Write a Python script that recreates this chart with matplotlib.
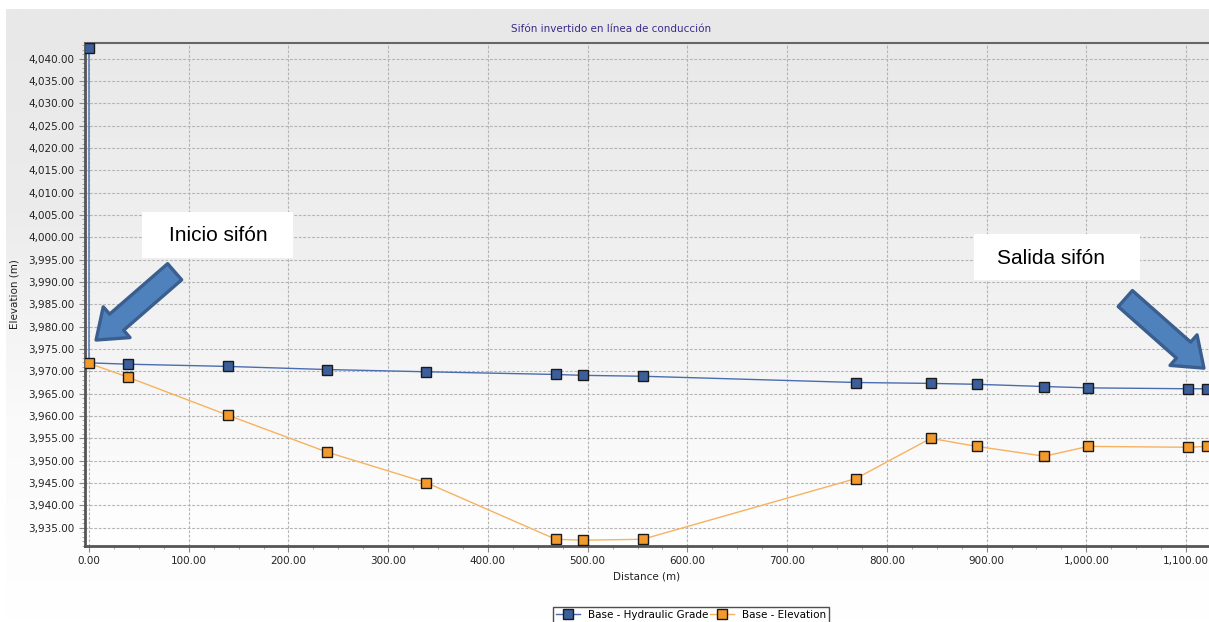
import matplotlib.pyplot as plt
import numpy as np
from matplotlib.colors import LinearSegmentedColormap
from matplotlib.patches import FancyArrowPatch, Rectangle
from matplotlib.ticker import MultipleLocator, FuncFormatter

dist_hgl = [0, 0, 39, 139, 239, 338, 468, 495, 555, 769, 844, 890, 958, 1002, 1102, 1121]
hgl = [4042.3, 3971.9, 3971.6, 3971.1, 3970.4, 3969.9, 3969.3, 3969.1, 3968.9,
       3967.5, 3967.3, 3967.1, 3966.6, 3966.3, 3966.1, 3966.1]
hgl_markers = [0, 2, 3, 4, 5, 6, 7, 8, 9, 10, 11, 12, 13, 14, 15]

dist_elev = [0, 39, 139, 239, 338, 468, 495, 555, 769, 844, 890, 958, 1002, 1102, 1121]
elev = [3971.8, 3968.7, 3960.2, 3951.9, 3945.1, 3932.4, 3932.2, 3932.4,
        3946.0, 3955.0, 3953.2, 3951.0, 3953.2, 3953.0, 3953.2]

fig = plt.figure(figsize=(12.09, 6.22), dpi=100)
fig.patch.set_facecolor("white")

# fondo gris del grafico
grad = np.linspace(0, 1, 256).reshape(-1, 1)
bg = fig.add_axes([6 / 1209, 0, 1 - 6 / 1209, 1 - 9 / 622], zorder=-5)
bg.imshow(grad, aspect="auto", extent=[0, 1, 0, 1],
          cmap=LinearSegmentedColormap.from_list("g", ["#e8e8e8", "#ececec", "#fafafa", "#ffffff"]))
bg.set_axis_off()

ax = fig.add_axes([85 / 1209, 1 - 546 / 622, 1 - 85 / 1209, (546 - 43) / 622])
ax.imshow(grad, aspect="auto", transform=ax.transAxes, extent=[0, 1, 0, 1], zorder=-1,
          cmap=LinearSegmentedColormap.from_list("g2", ["#e9e9e9", "#f1f1f1", "#ffffff"]))

ax.plot(dist_hgl, hgl, color="#4a6db0", lw=1.0, marker="s", markersize=7,
        markerfacecolor="#3c5f9c", markeredgecolor="#1a1a1a", markeredgewidth=1.0,
        markevery=hgl_markers, label="Base - Hydraulic Grade", zorder=3)
ax.plot(dist_elev, elev, color="#f7b260", lw=1.0, marker="s", markersize=7,
        markerfacecolor="#f39a2c", markeredgecolor="#1a1a1a", markeredgewidth=1.0,
        label="Base - Elevation", zorder=4)

ax.set_xlim(-4, 1123)
ax.set_ylim(3930.9, 4043.5)
ax.xaxis.set_major_locator(MultipleLocator(100))
ax.xaxis.set_minor_locator(MultipleLocator(25))
ax.yaxis.set_major_locator(MultipleLocator(5))
ax.yaxis.set_minor_locator(MultipleLocator(1))
fmt = FuncFormatter(lambda v, p: f"{v:,.2f}")
ax.xaxis.set_major_formatter(fmt)
ax.yaxis.set_major_formatter(fmt)
ax.tick_params(labelsize=7.5, labelcolor="#222222")
ax.tick_params(which="major", length=4, width=0.8, color="#888888")
ax.tick_params(which="minor", length=2.5, width=0.6, color="#999999")
ax.grid(True, which="major", linestyle="--", color="#b4b4b4", linewidth=0.8, dashes=(2.5, 1.5))

for side in ["left", "bottom"]:
    ax.spines[side].set_linewidth(2.0)
    ax.spines[side].set_color("#555555")
ax.spines["top"].set_linewidth(1.5)
ax.spines["top"].set_color("#666666")
ax.spines["right"].set_visible(False)

ax.set_xlabel("Distance (m)", fontsize=7.5, color="#222222", labelpad=4)
ax.set_ylabel("Elevation (m)", fontsize=7.5, color="#222222", labelpad=6)
fig.text(611 / 1209, 1 - 29 / 622, "Sifón invertido en línea de conducción",
         ha="center", va="center", fontsize=7.5, color="#3b2a8c")

# flechas y notas
arrow_kw = dict(arrowstyle="simple,head_width=2.1,head_length=1.4,tail_width=1.1",
                mutation_scale=14, facecolor="#4f81bd", edgecolor="#3a5f8f", lw=2.4,
                zorder=6)
ax.add_patch(FancyArrowPatch((88, 3992.7), (5, 3976.6), **arrow_kw))
ax.add_patch(FancyArrowPatch((1037, 3986.7), (1120, 3970.3), **arrow_kw))

ax.add_patch(Rectangle((53, 3995.3), 151.6, 10.4, facecolor="white", edgecolor="none", zorder=7))
ax.add_patch(Rectangle((887.7, 3990.4), 166.5, 10.3, facecolor="white", edgecolor="none", zorder=7))
ax.text(129.4, 4000.3, "Inicio sifón", fontsize=15, family="Liberation Sans",
        ha="center", va="center", zorder=8)
ax.text(964.9, 3995.3, "Salida sifón", fontsize=15, family="Liberation Sans",
        ha="center", va="center", zorder=8)

leg = fig.legend(loc="upper left", bbox_to_anchor=(553 / 1209, 1 - 607 / 622), ncol=2,
                 fontsize=7.5, frameon=True, fancybox=False, handlelength=2.3,
                 columnspacing=0.1, handletextpad=0.8, borderpad=0.3, borderaxespad=0)
leg.get_frame().set_edgecolor("#222222")
leg.get_frame().set_linewidth(1.0)

fig.savefig("out.png", dpi=100)
